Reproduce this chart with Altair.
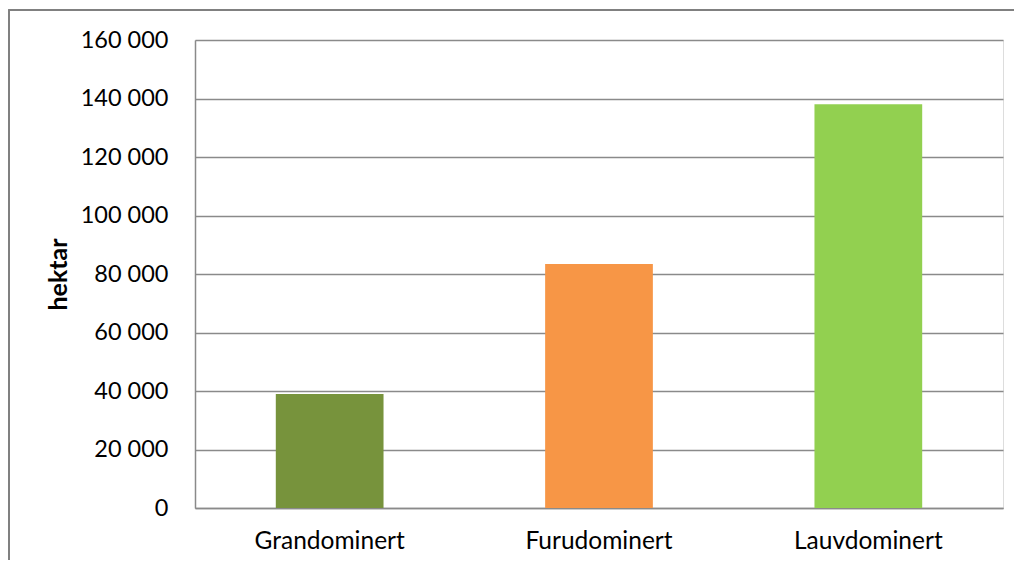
import altair as alt
import pandas as pd

categories = ["Grandominert", "Furudominert", "Lauvdominert"]
values = [39000, 83400, 138000]
colors = ["#77933C", "#F79646", "#92D050"]
y_ticks = [0, 20000, 40000, 60000, 80000, 100000, 120000, 140000, 160000]

df = pd.DataFrame({"kategori": categories, "hektar": values})

FONT = "Lato"
GRAY = "#8a8a8a"

bars = alt.Chart(df).mark_bar().encode(
    x=alt.X("kategori:N", sort=categories,
            scale=alt.Scale(paddingInner=0.6, paddingOuter=0.3),
            axis=alt.Axis(title=None, labelAngle=0, ticks=False, grid=False,
                          domainColor=GRAY, domainWidth=1.5, labelPadding=21,
                          labelFontSize=24.5, labelFont=FONT, labelColor="black")),
    y=alt.Y("hektar:Q", scale=alt.Scale(domain=[0, 160000], nice=False),
            axis=alt.Axis(title="hektar", values=y_ticks, ticks=False,
                          grid=True, gridColor=GRAY, gridWidth=1.5,
                          domainColor=GRAY, domainWidth=1.5,
                          labelExpr="replace(format(datum.value, ','), ',', ' ')",
                          labelPadding=27, labelFontSize=23.5, labelFont=FONT,
                          labelColor="black", titleFont=FONT, titleFontSize=25,
                          titleFontWeight="bold", titleColor="black",
                          titlePadding=9)),
    color=alt.Color("kategori:N", scale=alt.Scale(domain=categories, range=colors),
                    legend=None),
)

border = alt.Chart(df).mark_rect(fill=None, stroke="#7f7f7f", strokeWidth=1.5).encode(
    x=alt.value(-186), x2=alt.value(860),
    y=alt.value(-30), y2=alt.value(560),
)

chart = alt.layer(border, bars).properties(
    width=808, height=468,
    autosize=alt.AutoSizeParams(type="none"),
    padding={"left": 187, "top": 32, "right": 11, "bottom": 52},
).configure_view(stroke=None).configure(background="white")

chart.save("out.html", embed_options={"renderer": "svg", "actions": False})
